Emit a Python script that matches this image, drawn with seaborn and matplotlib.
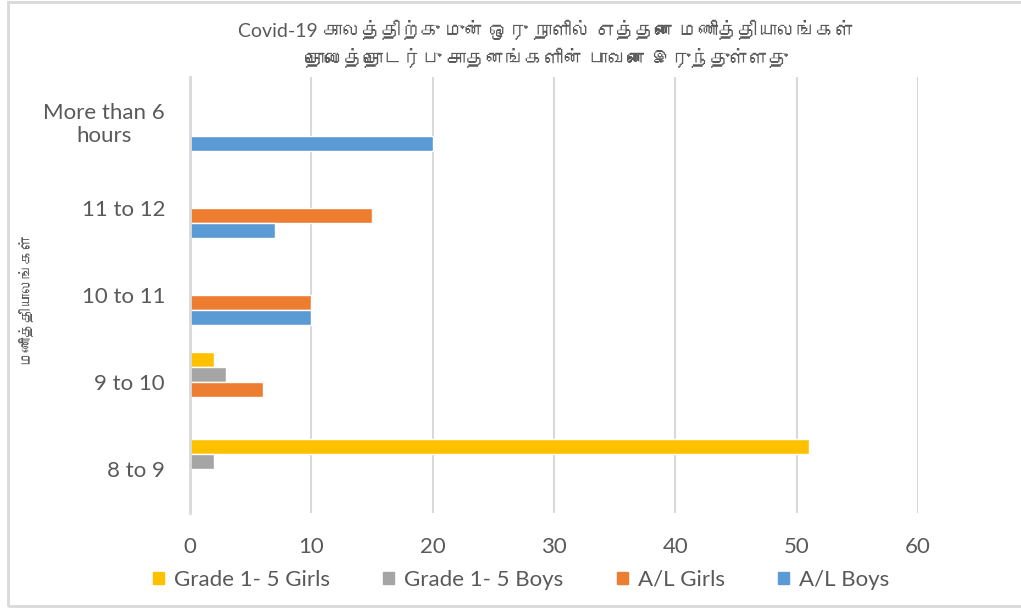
import pandas as pd
import matplotlib
matplotlib.use("Agg")
import matplotlib.pyplot as plt
import seaborn as sns
from matplotlib import font_manager
from matplotlib.ft2font import FT2Font
from matplotlib.patches import Rectangle

# -------------------------------
# Data
# -------------------------------
hours = ["More than 6\nhours", "11 to 12", "10 to 11", "9 to 10", "8 to 9"]
groups = ["Grade 1- 5 Girls", "Grade 1- 5 Boys", "A/L Girls", "A/L Boys"]

grade_girls = [0, 0, 0, 2, 51]
grade_boys = [0, 0, 0, 3, 2]
al_girls = [0, 15, 10, 6, 0]
al_boys = [20, 7, 10, 0, 0]

colors = ["#FFC000", "#A5A5A5", "#ED7D31", "#5B9BD5"]
x_ticks = [0, 10, 20, 30, 40, 50, 60]

title = ("Covid-19 காலத்திற்கு முன் ஒரு நாளில் எத்தனை மணித்தியாலங்கள்\n"
         "தொலைத்தொடர்பு சாதனங்களின் பாவனை இருந்துள்ளது")
y_label = "மணித்தியாலங்கள்"

rows = []
for g, vals in zip(groups, [grade_girls, grade_boys, al_girls, al_boys]):
    for h, v in zip(hours, vals):
        rows.append({"hours": h, "group": g, "value": v})
df = pd.DataFrame(rows)

# -------------------------------
# Fonts: find anything that can draw Tamil
# -------------------------------
tamil_fams = []
for f in font_manager.fontManager.ttflist:
    try:
        if 0x0B95 in FT2Font(f.fname).get_charmap() and f.name not in tamil_fams:
            tamil_fams.append(f.name)
    except Exception:
        pass

sns.set_style("white")
fams = ["Lato"] + tamil_fams + ["DejaVu Sans"]
plt.rcParams["font.family"] = fams
text_col = "#595959"
grid_col = "#D9D9D9"

# -------------------------------
# Plot
# -------------------------------
fig = plt.figure(figsize=(10.21, 6.08), dpi=100)
ax = fig.add_axes([190 / 1021, 1 - 513 / 608, (918 - 190) / 1021, (513 - 77) / 608])

sns.barplot(data=df, y="hours", x="value", hue="group", orient="h",
            order=hours, hue_order=groups, palette=colors, width=0.69,
            saturation=1, ax=ax, legend=False)

ax.set_xlim(0, 60)
ax.set_xticks(x_ticks)
ax.xaxis.grid(True, color=grid_col, linewidth=1.5)
ax.set_axisbelow(True)
for s in ax.spines.values():
    s.set_visible(False)
ax.spines["left"].set_visible(True)
ax.spines["left"].set_color(grid_col)
ax.spines["left"].set_linewidth(2)
ax.tick_params(axis="x", length=0, pad=17, labelsize=16, labelcolor=text_col)
ax.tick_params(axis="y", length=0, pad=18, labelsize=16, labelcolor=text_col)
for lab in ax.get_yticklabels():
    lab.set_multialignment("center")
ax.set_xlabel("")
ax.set_ylabel("")

fig.text(26 / 1021, 1 - 298 / 608, y_label, rotation=90, ha="center", va="center",
         fontsize=10.5, color=text_col)
fig.text(546 / 1021, 1 - 44 / 608, title, ha="center", va="center",
         fontsize=14, color=text_col, linespacing=1.45)

handles = [Rectangle((0, 0), 1, 1, color=c) for c in colors]
fig.legend(handles, groups, loc="center", bbox_to_anchor=(521 / 1021, 1 - 580 / 608),
           ncol=4, frameon=False, fontsize=16, labelcolor=text_col,
           handlelength=0.5, handleheight=0.5, handletextpad=0.45, columnspacing=2.4)

# light frame around the chart like the original image
fig.patches.append(Rectangle((8 / 1021, 0.003), 1.2, 1 - 2 / 608 - 0.003,
                             transform=fig.transFigure, fill=False,
                             edgecolor=grid_col, linewidth=2))

fig.savefig("out.png", dpi=100)
